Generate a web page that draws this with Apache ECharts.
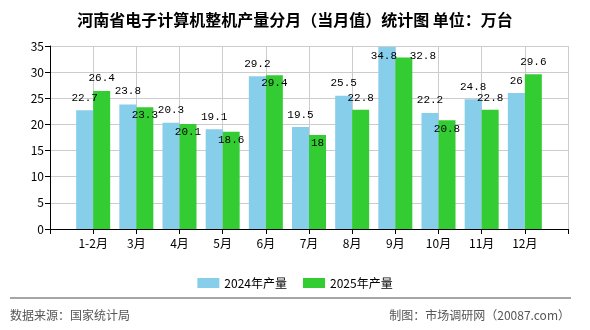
<!DOCTYPE html>
<html>
<head>
<meta charset="utf-8">
<script src="https://cdn.jsdelivr.net/npm/echarts@6/dist/echarts.min.js"></script>
<style>
  html, body { margin: 0; padding: 0; background: #fff; }
  #chart { width: 590px; height: 330px; }
</style>
</head>
<body>
<div id="chart"></div>
<script>
// months (first and last slots are empty padding)
const categories = ["1-2月", "3月", "4月", "5月", "6月", "7月", "8月", "9月", "10月", "11月", "12月"];
const values2024 = [22.7, 23.8, 20.3, 19.1, 29.2, 19.5, 25.5, 34.8, 22.2, 24.8, 26];
const values2025 = [26.4, 23.3, 20.1, 18.6, 29.4, 18, 22.8, 32.8, 20.8, 22.8, 29.6];
const yTicks = [0, 5, 10, 15, 20, 25, 30, 35];

// where each value label sits relative to the bar top [dx, dy]
const labelShift2024 = [[0, -12], [0, -13], [0, -13], [0, -12], [0, -12], [0, -12], [0, -13], [-3, 9], [0, -13], [0, -12], [0, -12]];
const labelShift2025 = [[0, -13], [0, 8], [0, 8], [0, 8], [0, 8], [0, 8], [0, -12], [19, -1], [0, 9], [0, -12], [0, -12]];

const chart = echarts.init(document.getElementById("chart"));

const cjk = "'Noto Sans CJK SC', 'Noto Sans', sans-serif";
const mono = "'Liberation Mono', 'DejaVu Sans Mono', monospace";

function buildItems(values, shifts) {
  return [null].concat(values.map((v, i) => ({
    value: v,
    label: {
      position: ["50%", 0],
      align: "center",
      verticalAlign: "middle",
      offset: shifts[i],
    },
  }))).concat([null]);
}

const options = {
  animation: false,
  title: {
    text: "河南省电子计算机整机产量分月（当月值）统计图 单位：万台",
    left: "center",
    top: 7,
    textStyle: {
      fontSize: 16,
      fontWeight: "bold",
      color: "#000",
      fontFamily: cjk,
    },
  },
  legend: {
    data: ["2024年产量", "2025年产量"],
    top: 272,
    left: "center",
    itemWidth: 22,
    itemHeight: 10,
    itemGap: 16,
    icon: "rect",
    textStyle: {
      fontSize: 12,
      color: "#000",
      fontFamily: cjk,
    },
  },
  grid: {
    left: 50,
    right: 22,
    top: 46,
    bottom: 101,
  },
  xAxis: {
    type: "category",
    boundaryGap: false,
    data: [""].concat(categories).concat([""]),
    axisLine: { lineStyle: { color: "#000", width: 1 } },
    axisTick: { show: true, interval: 0, length: 5, lineStyle: { color: "#000" } },
    axisLabel: {
      interval: 0,
      color: "#000",
      fontSize: 12,
      margin: 8,
      fontFamily: cjk,
    },
    splitLine: { show: true, interval: 0, lineStyle: { color: "#cccccc" } },
  },
  yAxis: {
    type: "value",
    min: yTicks[0],
    max: yTicks[yTicks.length - 1],
    interval: 5,
    axisLine: { show: true, lineStyle: { color: "#000", width: 1 } },
    axisTick: { show: true, length: 5, lineStyle: { color: "#000" } },
    axisLabel: {
      color: "#000",
      fontSize: 12,
      margin: 6,
      fontFamily: cjk,
    },
    splitLine: { show: true, lineStyle: { color: "#cccccc" } },
  },
  series: [
    {
      name: "2024年产量",
      type: "bar",
      barWidth: 17,
      barGap: "0%",
      itemStyle: { color: "#87ceeb" },
      label: {
        show: true,
        color: "#000",
        fontSize: 11,
        fontFamily: mono,
      },
      data: buildItems(values2024, labelShift2024),
    },
    {
      name: "2025年产量",
      type: "bar",
      barWidth: 17,
      barGap: "0%",
      itemStyle: { color: "#33cc33" },
      label: {
        show: true,
        color: "#000",
        fontSize: 11,
        fontFamily: mono,
      },
      data: buildItems(values2025, labelShift2025),
    },
  ],
  graphic: [
    {
      type: "line",
      shape: { x1: 10, y1: 298, x2: 571, y2: 298 },
      style: { stroke: "#888888", lineWidth: 1.5 },
    },
    {
      type: "text",
      left: 10,
      top: 309,
      style: {
        text: "数据来源：国家统计局",
        fill: "#555",
        font: "12px " + cjk,
      },
    },
    {
      type: "text",
      right: 20,
      top: 309,
      style: {
        text: "制图：市场调研网（20087.com）",
        fill: "#555",
        font: "12px " + cjk,
      },
    },
  ],
};

chart.setOption(options);
</script>
</body>
</html>
